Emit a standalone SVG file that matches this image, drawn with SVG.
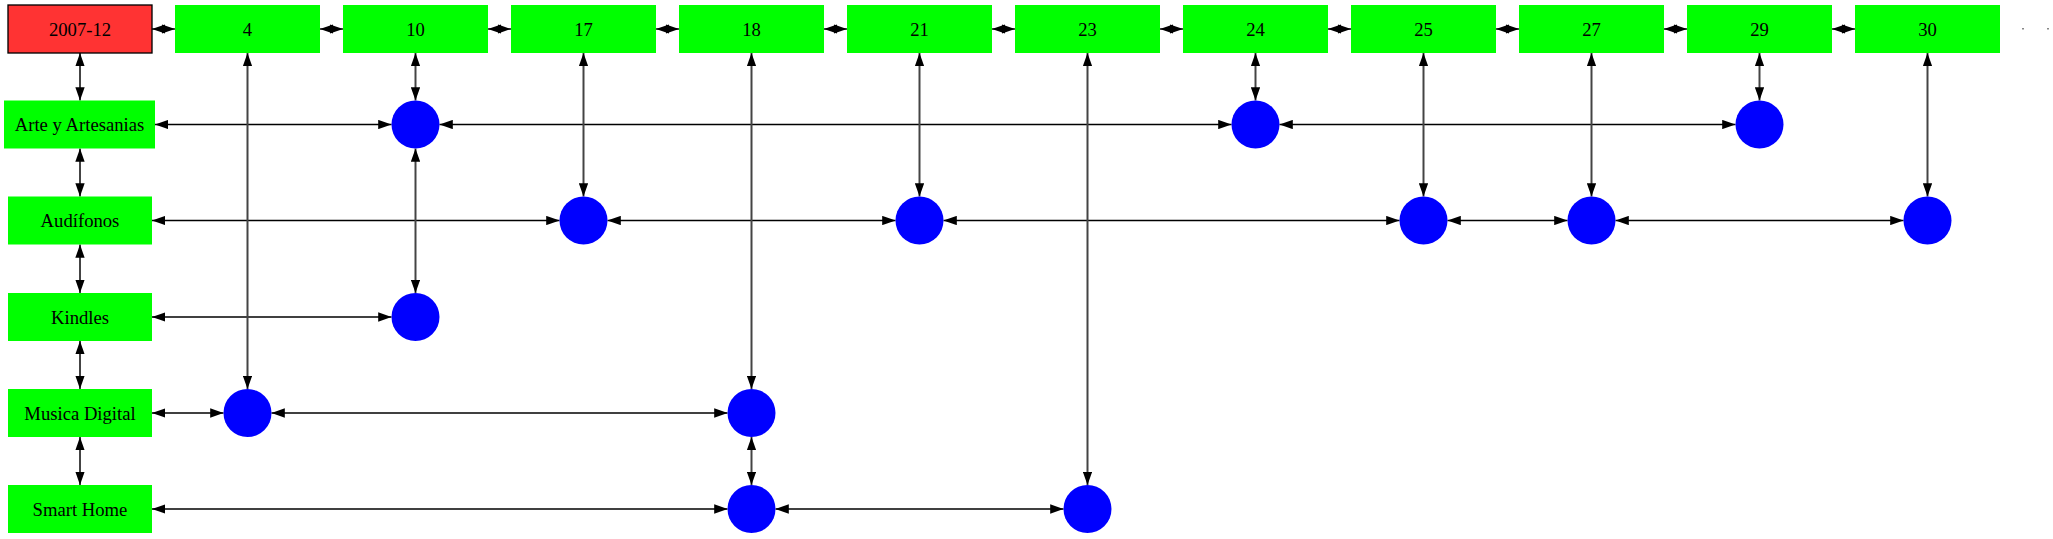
<svg xmlns="http://www.w3.org/2000/svg" width="2053" height="539" viewBox="0 0 2053 539">
<style>
.g{fill:#00ff00}
.c{fill:#0000ff}
.t{font-family:"Liberation Serif","Times New Roman",serif;font-size:18.67px;text-anchor:middle;fill:#000}
.h{stroke:#000;stroke-width:1.33;fill:none;marker-start:url(#a);marker-end:url(#a)}
.v{stroke:#444;stroke-width:2;fill:none;marker-start:url(#a);marker-end:url(#a)}
</style>
<defs>
<marker id="a" viewBox="0 0 13.33 9.33" refX="13.33" refY="4.67" markerWidth="13.33" markerHeight="9.33" markerUnits="userSpaceOnUse" orient="auto-start-reverse">
<path d="M0,0 L13.33,4.67 L0,9.33 Z" fill="#000"/>
</marker>
</defs>
<rect width="2053" height="539" fill="#fff"/>
<g id="connectors">
<line class="h" x1="152" y1="29" x2="175" y2="29"/>
<line class="h" x1="320" y1="29" x2="343" y2="29"/>
<line class="h" x1="488" y1="29" x2="511" y2="29"/>
<line class="h" x1="656" y1="29" x2="679" y2="29"/>
<line class="h" x1="824" y1="29" x2="847" y2="29"/>
<line class="h" x1="992" y1="29" x2="1015" y2="29"/>
<line class="h" x1="1160" y1="29" x2="1183" y2="29"/>
<line class="h" x1="1328" y1="29" x2="1351" y2="29"/>
<line class="h" x1="1496" y1="29" x2="1519" y2="29"/>
<line class="h" x1="1664" y1="29" x2="1687" y2="29"/>
<line class="h" x1="1832" y1="29" x2="1855" y2="29"/>
<line class="v" x1="80" y1="53" x2="80" y2="100.5"/>
<line class="v" x1="80" y1="148.5" x2="80" y2="196.5"/>
<line class="v" x1="80" y1="244.5" x2="80" y2="293"/>
<line class="v" x1="80" y1="341" x2="80" y2="389"/>
<line class="v" x1="80" y1="437" x2="80" y2="485"/>
<line class="h" x1="155" y1="124.5" x2="391.5" y2="124.5"/>
<line class="h" x1="439.5" y1="124.5" x2="1231.5" y2="124.5"/>
<line class="h" x1="1279.5" y1="124.5" x2="1735.5" y2="124.5"/>
<line class="h" x1="152" y1="220.5" x2="559.5" y2="220.5"/>
<line class="h" x1="607.5" y1="220.5" x2="895.5" y2="220.5"/>
<line class="h" x1="943.5" y1="220.5" x2="1399.5" y2="220.5"/>
<line class="h" x1="1447.5" y1="220.5" x2="1567.5" y2="220.5"/>
<line class="h" x1="1615.5" y1="220.5" x2="1903.5" y2="220.5"/>
<line class="h" x1="152" y1="317" x2="391.5" y2="317"/>
<line class="h" x1="152" y1="413" x2="223.5" y2="413"/>
<line class="h" x1="271.5" y1="413" x2="727.5" y2="413"/>
<line class="h" x1="152" y1="509" x2="727.5" y2="509"/>
<line class="h" x1="775.5" y1="509" x2="1063.5" y2="509"/>
<line class="v" x1="247.5" y1="53" x2="247.5" y2="389"/>
<line class="v" x1="415.5" y1="53" x2="415.5" y2="100.5"/>
<line class="v" x1="415.5" y1="148.5" x2="415.5" y2="293"/>
<line class="v" x1="583.5" y1="53" x2="583.5" y2="196.5"/>
<line class="v" x1="751.5" y1="53" x2="751.5" y2="389"/>
<line class="v" x1="751.5" y1="437" x2="751.5" y2="485"/>
<line class="v" x1="919.5" y1="53" x2="919.5" y2="196.5"/>
<line class="v" x1="1087.5" y1="53" x2="1087.5" y2="485"/>
<line class="v" x1="1255.5" y1="53" x2="1255.5" y2="100.5"/>
<line class="v" x1="1423.5" y1="53" x2="1423.5" y2="196.5"/>
<line class="v" x1="1591.5" y1="53" x2="1591.5" y2="196.5"/>
<line class="v" x1="1759.5" y1="53" x2="1759.5" y2="100.5"/>
<line class="v" x1="1927.5" y1="53" x2="1927.5" y2="196.5"/>
</g>
<g id="n2007-12"><rect x="8" y="5" width="144" height="48" fill="#ff3333" stroke="#000" stroke-width="1.33"/><text class="t" x="80" y="35.5">2007-12</text></g>
<g id="h4"><rect class="g" x="175" y="5" width="145" height="48"/><text class="t" x="247.5" y="35.5">4</text></g>
<g id="h10"><rect class="g" x="343" y="5" width="145" height="48"/><text class="t" x="415.5" y="35.5">10</text></g>
<g id="h17"><rect class="g" x="511" y="5" width="145" height="48"/><text class="t" x="583.5" y="35.5">17</text></g>
<g id="h18"><rect class="g" x="679" y="5" width="145" height="48"/><text class="t" x="751.5" y="35.5">18</text></g>
<g id="h21"><rect class="g" x="847" y="5" width="145" height="48"/><text class="t" x="919.5" y="35.5">21</text></g>
<g id="h23"><rect class="g" x="1015" y="5" width="145" height="48"/><text class="t" x="1087.5" y="35.5">23</text></g>
<g id="h24"><rect class="g" x="1183" y="5" width="145" height="48"/><text class="t" x="1255.5" y="35.5">24</text></g>
<g id="h25"><rect class="g" x="1351" y="5" width="145" height="48"/><text class="t" x="1423.5" y="35.5">25</text></g>
<g id="h27"><rect class="g" x="1519" y="5" width="145" height="48"/><text class="t" x="1591.5" y="35.5">27</text></g>
<g id="h29"><rect class="g" x="1687" y="5" width="145" height="48"/><text class="t" x="1759.5" y="35.5">29</text></g>
<g id="h30"><rect class="g" x="1855" y="5" width="145" height="48"/><text class="t" x="1927.5" y="35.5">30</text></g>
<g id="more"><rect x="2022" y="28" width="2" height="1.5" fill="#888"/><rect x="2047" y="28" width="2" height="1.5" fill="#888"/></g>
<g id="arte"><rect class="g" x="4" y="100.5" width="151" height="48"/><text class="t" x="79.5" y="131">Arte y Artesanias</text></g>
<g id="audifonos"><rect class="g" x="8" y="196.5" width="144" height="48"/><text class="t" x="80" y="227">Audífonos</text></g>
<g id="kindles"><rect class="g" x="8" y="293" width="144" height="48"/><text class="t" x="80" y="323.5">Kindles</text></g>
<g id="musica"><rect class="g" x="8" y="389" width="144" height="48"/><text class="t" x="80" y="419.5">Musica Digital</text></g>
<g id="smart"><rect class="g" x="8" y="485" width="144" height="48"/><text class="t" x="80" y="515.5">Smart Home</text></g>
<g id="c_arte_10"><circle class="c" cx="415.5" cy="124.5" r="24"/></g>
<g id="c_arte_24"><circle class="c" cx="1255.5" cy="124.5" r="24"/></g>
<g id="c_arte_29"><circle class="c" cx="1759.5" cy="124.5" r="24"/></g>
<g id="c_aud_17"><circle class="c" cx="583.5" cy="220.5" r="24"/></g>
<g id="c_aud_21"><circle class="c" cx="919.5" cy="220.5" r="24"/></g>
<g id="c_aud_25"><circle class="c" cx="1423.5" cy="220.5" r="24"/></g>
<g id="c_aud_27"><circle class="c" cx="1591.5" cy="220.5" r="24"/></g>
<g id="c_aud_30"><circle class="c" cx="1927.5" cy="220.5" r="24"/></g>
<g id="c_kin_10"><circle class="c" cx="415.5" cy="317" r="24"/></g>
<g id="c_mus_4"><circle class="c" cx="247.5" cy="413" r="24"/></g>
<g id="c_mus_18"><circle class="c" cx="751.5" cy="413" r="24"/></g>
<g id="c_sm_18"><circle class="c" cx="751.5" cy="509" r="24"/></g>
<g id="c_sm_23"><circle class="c" cx="1087.5" cy="509" r="24"/></g>
</svg>
